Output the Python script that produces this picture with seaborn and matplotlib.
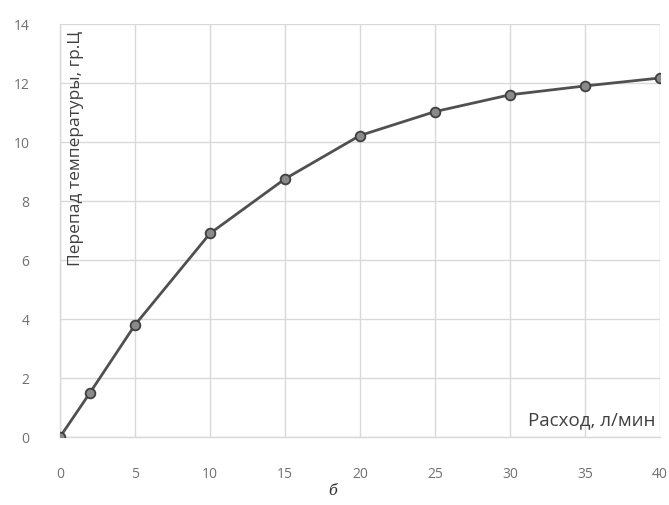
import matplotlib
matplotlib.use("Agg")
import matplotlib.pyplot as plt
import seaborn as sns
import pandas as pd

flow = [0, 2, 5, 10, 15, 20, 25, 30, 35, 40]
delta_t = [0.0, 1.5, 3.8, 6.9, 8.75, 10.22, 11.03, 11.6, 11.9, 12.17]
x_ticks = [0, 5, 10, 15, 20, 25, 30, 35, 40]
y_ticks = [0, 2, 4, 6, 8, 10, 12, 14]
y_label = "Перепад температуры, гр.Ц"
x_label = "Расход, л/мин"
caption = "б"

sns.set_theme(style="white")
plt.rcParams['font.family'] = ['Open Sans', 'DejaVu Sans']

df = pd.DataFrame({"flow": flow, "dt": delta_t})
fig = plt.figure(figsize=(6.69, 5.06), dpi=100)
ax = fig.add_axes([0.0897, 0.1344, 0.8968, 0.8162])

sns.lineplot(data=df, x="flow", y="dt", ax=ax, color="#505050", linewidth=2.0,
             marker="o", markersize=7, markerfacecolor="#8a8a8a",
             markeredgecolor="#404040", markeredgewidth=1.3, zorder=5)

ax.set_xlim(0, 40)
ax.set_ylim(0, 14)
ax.set_xticks(x_ticks)
ax.set_yticks(y_ticks)
ax.grid(True, color="#d9d9d9", linewidth=1.0)
ax.set_axisbelow(True)
for s in ["top", "right"]:
    ax.spines[s].set_visible(False)
for s in ["left", "bottom"]:
    ax.spines[s].set_color("#d9d9d9")
    ax.spines[s].set_linewidth(1.0)
ax.tick_params(axis="both", length=8, width=1.0, color="#d9d9d9",
               labelsize=10, labelcolor="#707070")
ax.tick_params(axis="x", pad=13)
ax.tick_params(axis="y", pad=14)
ax.set_xlabel("")
ax.set_ylabel("")

ax.text(0.014, 0.985, y_label, transform=ax.transAxes, rotation=90,
        ha="left", va="top", fontsize=12.5, color="#404040")
ax.text(0.993, 0.022, x_label, transform=ax.transAxes,
        ha="right", va="bottom", fontsize=13.5, color="#404040")
fig.text(0.498, 0.03, caption, ha="center", va="center", fontsize=10.5,
         style="italic", color="#303030", family=['DejaVu Serif'])

fig.savefig("out.png", dpi=100, facecolor="white")
